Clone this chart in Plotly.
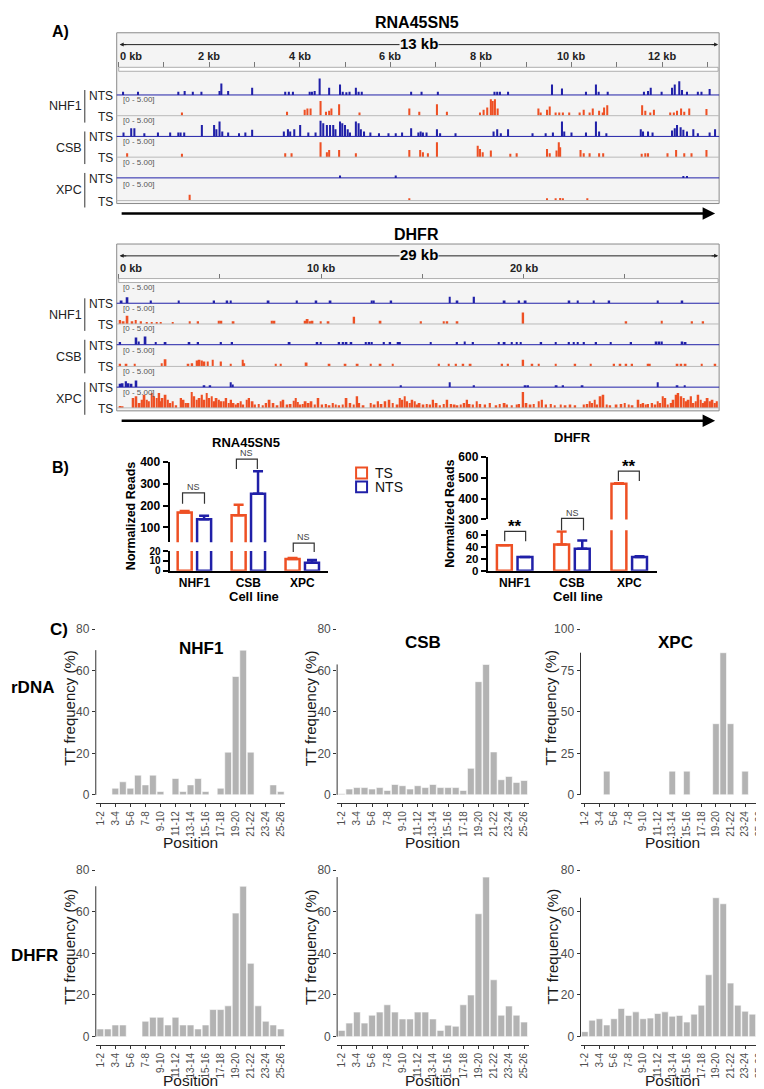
import plotly.graph_objects as go

W, H = 764, 1089
FONT = "Liberation Sans, Arial, sans-serif"
BLUE = "#2020a8"
RED = "#ee5024"
HIST_GREY = "#b3b3b3"
AXIS_GREY = "#333333"
TICK_GREY = "#4d4d4d"

# A) genome browser tracks: (position in kb, signal on the 0-5 scale)
rna_nhf1_nts = [(0.10, 1.0), (0.43, 1.0), (1.32, 1.0), (1.46, 1.2), (1.64, 1.0), (1.83, 1.0), (2.23, 1.2), (2.27, 3.5),
                (2.42, 1.2), (2.95, 2.2), (3.68, 1.0), (3.76, 1.0), (3.85, 1.0), (4.22, 1.0), (4.27, 1.0), (4.33, 1.2),
                (4.44, 5.0), (4.65, 2.2), (4.89, 3.2), (4.95, 1.0), (5.03, 0.8), (5.10, 1.0), (5.24, 2.2), (5.30, 1.0),
                (5.37, 1.0), (6.46, 1.0), (6.69, 1.0), (7.05, 1.0), (8.30, 1.0), (8.36, 1.0), (8.42, 1.0), (8.60, 1.0),
                (9.57, 3.2), (9.79, 2.0), (10.32, 1.0), (10.54, 3.2), (10.60, 1.0), (10.80, 1.0), (11.60, 1.0),
                (11.69, 1.2), (11.75, 2.2), (11.99, 1.0), (12.22, 2.2), (12.28, 3.2), (12.38, 4.2), (12.44, 1.5),
                (12.55, 1.0), (12.79, 1.0), (12.87, 1.0), (13.05, 1.8)]
rna_nhf1_ts = [(1.40, 1.0), (3.72, 1.2), (4.11, 1.8), (4.17, 2.2), (4.24, 2.2), (4.46, 4.5), (4.58, 1.2), (4.65, 1.5),
               (4.70, 2.2), (4.87, 3.5), (5.32, 1.0), (6.42, 2.2), (6.64, 1.2), (7.03, 3.5), (7.25, 1.2), (7.98, 1.0),
               (8.06, 1.8), (8.14, 2.5), (8.22, 5.0), (8.26, 4.5), (8.31, 5.0), (8.37, 2.2), (9.27, 2.2), (9.32, 1.0),
               (9.46, 1.8), (9.52, 2.8), (9.65, 1.0), (9.73, 1.0), (9.81, 1.0), (9.95, 1.0), (10.18, 1.0),
               (10.27, 1.8), (10.40, 1.0), (10.47, 2.2), (10.61, 1.5), (10.69, 1.0), (10.72, 2.5), (10.79, 3.2),
               (11.56, 3.2), (11.63, 1.5), (11.74, 1.0), (11.82, 1.8), (12.18, 1.0), (12.26, 1.0), (12.33, 1.5),
               (12.42, 2.2), (12.49, 1.2), (12.60, 2.2), (12.98, 2.0)]
rna_csb_nts = [(0.11, 1.2), (0.28, 2.5), (0.35, 2.5), (0.57, 1.0), (0.87, 1.2), (1.14, 1.2), (1.32, 1.2), (1.37, 1.2),
               (1.45, 1.2), (1.84, 3.5), (2.11, 3.5), (2.16, 2.2), (2.23, 4.5), (2.29, 1.5), (2.42, 1.2), (2.66, 1.0),
               (2.80, 1.2), (2.95, 2.0), (3.65, 1.5), (3.74, 2.2), (3.79, 1.5), (3.88, 2.2), (4.01, 3.5), (4.19, 1.2),
               (4.35, 1.2), (4.46, 4.8), (4.52, 4.0), (4.60, 3.5), (4.67, 3.5), (4.74, 3.5), (4.79, 2.2), (4.89, 4.5),
               (4.94, 4.0), (5.00, 3.5), (5.06, 2.2), (5.11, 1.2), (5.24, 4.5), (5.30, 4.0), (5.35, 2.2), (5.42, 1.5),
               (5.56, 1.2), (5.75, 1.0), (5.96, 1.0), (6.12, 1.0), (6.26, 1.2), (6.46, 2.5), (6.62, 1.2), (6.67, 1.5),
               (6.72, 1.2), (6.80, 1.2), (7.03, 2.2), (7.10, 1.0), (7.44, 1.0), (8.28, 1.5), (8.36, 2.2), (8.44, 1.0),
               (8.60, 2.2), (9.14, 1.0), (9.43, 1.0), (9.59, 1.2), (9.79, 4.5), (9.84, 1.5), (10.00, 1.2),
               (10.32, 1.2), (10.54, 4.5), (10.61, 1.5), (10.77, 1.0), (11.53, 2.2), (11.58, 1.5), (11.69, 1.5),
               (11.79, 1.2), (12.22, 1.8), (12.28, 2.5), (12.33, 3.5), (12.41, 2.8), (12.47, 2.0), (12.55, 1.5),
               (12.69, 2.2), (12.79, 1.0), (13.05, 1.2), (13.17, 2.2)]
rna_csb_ts = [(0.19, 1.2), (1.40, 1.0), (3.68, 1.2), (3.82, 1.2), (4.46, 4.5), (4.60, 1.5), (4.65, 2.2), (4.87, 2.2),
              (5.24, 1.2), (6.42, 2.2), (6.66, 2.2), (6.72, 1.5), (6.83, 1.2), (7.03, 4.5), (7.93, 3.5), (7.98, 2.5),
              (8.04, 1.5), (8.22, 2.0), (8.65, 1.0), (8.79, 1.2), (9.46, 2.5), (9.52, 1.2), (9.67, 2.0), (9.72, 4.5),
              (9.75, 3.0), (10.20, 2.2), (10.27, 1.2), (10.40, 1.2), (10.61, 1.2), (10.70, 1.2), (11.55, 1.0),
              (11.63, 1.2), (11.69, 1.2), (12.12, 1.2), (12.31, 2.2), (12.49, 1.2), (12.65, 1.2), (12.98, 2.2)]
rna_xpc_nts = [(4.89, 0.7), (6.12, 0.7), (12.47, 0.6), (12.55, 0.6)]
rna_xpc_ts = [(1.57, 1.8), (6.42, 0.7), (9.46, 0.7), (9.65, 0.7), (9.75, 0.8), (9.81, 0.7), (10.35, 0.7)]

dhfr_nhf1_nts = [(0.14, 0.8), (0.43, 1.8), (1.59, 0.8), (2.96, 0.8), (4.71, 0.8), (5.36, 0.8), (5.53, 0.8), (7.40, 0.8),
                 (8.80, 0.8), (9.76, 0.8), (10.46, 0.8), (12.50, 0.8), (12.60, 0.8), (13.46, 0.8), (16.35, 2.0),
                 (16.73, 0.8), (17.55, 2.0), (19.06, 0.8), (19.78, 0.8), (20.10, 0.8), (22.26, 0.8), (22.67, 0.8),
                 (23.46, 0.8), (24.23, 0.8), (26.63, 0.8), (27.84, 0.8)]
dhfr_nhf1_ts = [(0.07, 1.2), (0.24, 0.8), (0.43, 2.5), (0.67, 0.8), (0.84, 1.2), (1.10, 0.8), (1.39, 0.6), (1.63, 0.6),
                (1.88, 0.6), (2.07, 0.6), (2.67, 0.6), (3.51, 0.8), (3.92, 0.8), (4.95, 1.0), (5.07, 1.0), (5.67, 0.8),
                (7.57, 1.0), (7.69, 1.0), (9.21, 1.0), (9.33, 1.5), (9.45, 0.8), (9.57, 1.0), (9.98, 0.8), (10.36, 0.8),
                (11.63, 2.2), (12.93, 1.0), (14.93, 0.8), (16.06, 0.8), (16.23, 0.8), (16.73, 0.8), (19.98, 3.5),
                (25.07, 0.8), (26.83, 1.0), (28.32, 0.8), (28.87, 0.8)]
dhfr_csb_nts = [(0.07, 0.8), (0.87, 2.2), (0.99, 1.0), (1.32, 2.5), (1.83, 0.8), (2.31, 0.8), (3.49, 0.8), (3.92, 0.8),
                (5.05, 0.8), (5.60, 0.8), (8.44, 0.8), (9.81, 0.8), (9.98, 0.8), (10.89, 0.8), (11.08, 0.8),
                (11.25, 0.8), (11.49, 0.8), (12.21, 0.8), (12.38, 0.8), (12.50, 0.8), (13.10, 0.8), (13.41, 0.8),
                (13.82, 0.8), (13.89, 0.8), (15.41, 0.8), (16.71, 0.8), (17.09, 1.0), (17.50, 0.8), (18.77, 0.8),
                (19.06, 0.8), (19.42, 0.8), (19.66, 0.8), (19.86, 0.8), (20.87, 0.8), (21.59, 0.8), (22.24, 0.8),
                (22.48, 0.8), (22.67, 0.8), (22.98, 0.8), (23.58, 0.8), (24.30, 0.8), (25.31, 0.8), (26.56, 1.0),
                (26.71, 1.0), (26.83, 1.0), (27.84, 1.0), (28.00, 0.8)]
dhfr_csb_ts = [(0.07, 0.8), (0.38, 0.8), (0.79, 0.8), (2.12, 1.0), (2.31, 2.2), (3.44, 0.8), (3.63, 1.0), (3.87, 1.8),
               (3.99, 2.0), (4.11, 1.8), (4.23, 1.5), (4.40, 1.5), (4.64, 2.0), (5.05, 1.5), (5.53, 0.8), (6.13, 2.0),
               (6.20, 1.0), (7.76, 0.8), (8.00, 0.8), (9.28, 1.2), (10.41, 0.8), (11.20, 0.8), (11.80, 0.8),
               (12.45, 0.8), (12.93, 0.8), (13.53, 0.8), (15.82, 0.8), (16.30, 0.8), (16.66, 0.8), (17.02, 0.8),
               (17.38, 0.8), (18.94, 0.8), (19.23, 0.8), (19.98, 2.0), (20.43, 0.8), (20.75, 0.8), (21.59, 0.8),
               (22.55, 0.8), (23.32, 0.8), (24.47, 0.8), (24.78, 0.8), (25.07, 0.8), (25.36, 0.8), (26.15, 0.8),
               (26.23, 0.8), (27.60, 0.8), (27.79, 0.8), (28.00, 0.8), (28.80, 0.8), (29.47, 0.8)]
dhfr_xpc_nts = [(0.07, 1.0), (0.19, 1.2), (0.36, 1.8), (0.48, 1.2), (0.63, 1.0), (0.87, 2.0), (4.23, 0.6), (4.52, 0.6),
                (5.53, 1.5), (5.63, 0.8), (13.94, 0.6), (16.35, 1.5), (17.55, 0.6), (20.10, 0.6), (20.22, 0.6),
                (21.63, 0.6), (21.95, 0.6), (22.91, 0.6), (26.63, 1.5), (27.60, 0.6), (27.96, 0.6)]
dhfr_xpc_ts = [(0.07, 0.6), (0.19, 0.4), (0.72, 3.0), (0.87, 3.5), (1.03, 1.5), (1.15, 2.5), (1.27, 4.0), (1.39, 2.5),
               (1.49, 2.0), (1.63, 4.5), (1.75, 3.5), (1.88, 3.0), (2.00, 4.5), (2.07, 2.0), (2.16, 3.0), (2.31, 4.0),
               (2.43, 2.5), (2.55, 1.5), (2.67, 2.0), (2.84, 0.8), (3.08, 3.0), (3.20, 2.5), (3.32, 1.5), (3.44, 1.5),
               (3.61, 4.8), (3.73, 3.5), (3.85, 2.5), (3.99, 3.0), (4.11, 4.0), (4.23, 2.5), (4.35, 4.5), (4.47, 3.0),
               (4.59, 3.5), (4.71, 2.0), (4.83, 3.0), (4.95, 2.5), (5.07, 2.0), (5.19, 2.0), (5.31, 3.0), (5.43, 1.5),
               (5.55, 2.5), (5.67, 1.5), (5.79, 1.0), (5.91, 1.5), (6.03, 2.0), (6.15, 1.0), (6.32, 2.5), (6.44, 3.0),
               (6.61, 2.0), (6.73, 1.0), (6.92, 1.2), (7.12, 0.8), (7.28, 1.5), (7.45, 2.5), (7.64, 1.5), (7.84, 0.8),
               (8.00, 2.0), (8.13, 2.5), (8.32, 1.0), (8.49, 1.2), (8.65, 2.2), (8.75, 3.0), (8.85, 1.8), (8.97, 1.0),
               (9.09, 1.2), (9.23, 2.0), (9.38, 1.5), (9.52, 2.0), (9.69, 1.0), (9.86, 3.0), (10.05, 1.0),
               (10.24, 1.2), (10.41, 0.8), (10.58, 1.5), (10.72, 1.0), (10.89, 0.8), (11.06, 1.0), (11.25, 3.0),
               (11.44, 1.5), (11.61, 1.0), (11.78, 3.5), (11.88, 1.5), (12.09, 0.8), (12.45, 1.5), (12.64, 1.0),
               (12.81, 2.0), (12.98, 1.2), (13.17, 2.0), (13.37, 2.5), (13.53, 1.5), (13.77, 1.0), (13.89, 3.0),
               (14.01, 2.5), (14.13, 3.5), (14.25, 2.0), (14.38, 1.5), (14.50, 2.5), (14.62, 2.0), (14.74, 1.0),
               (14.86, 1.5), (15.05, 1.0), (15.22, 1.2), (15.38, 1.0), (15.53, 2.5), (15.70, 1.5), (15.87, 0.8),
               (16.06, 1.2), (16.23, 2.5), (16.42, 1.2), (16.59, 1.0), (16.73, 0.8), (16.90, 1.0), (17.07, 1.5),
               (17.21, 2.5), (17.33, 1.2), (17.50, 1.0), (17.69, 2.0), (17.86, 1.2), (18.10, 1.0), (18.34, 1.5),
               (18.65, 0.8), (18.82, 1.2), (19.06, 1.5), (19.18, 1.0), (19.42, 0.8), (19.66, 1.0), (19.78, 1.2),
               (19.98, 4.8), (20.14, 1.5), (20.34, 1.0), (20.50, 1.2), (20.75, 2.0), (20.91, 2.5), (21.11, 1.0),
               (21.35, 1.2), (21.54, 0.8), (21.83, 1.0), (22.07, 0.8), (22.31, 1.0), (22.55, 0.8), (22.98, 1.0),
               (23.15, 1.2), (23.27, 2.0), (23.39, 1.5), (23.51, 2.5), (23.63, 1.0), (23.80, 3.5), (23.94, 4.0),
               (24.11, 1.0), (24.28, 0.8), (24.59, 1.0), (24.83, 1.2), (25.00, 1.5), (25.19, 1.0), (25.38, 0.8),
               (25.67, 2.5), (25.79, 1.2), (25.91, 1.5), (26.03, 1.0), (26.15, 1.2), (26.35, 1.5), (26.51, 1.0),
               (26.63, 2.0), (26.75, 1.5), (26.88, 3.5), (27.00, 3.0), (27.12, 1.0), (27.31, 1.5), (27.40, 2.5),
               (27.55, 4.0), (27.64, 4.5), (27.79, 3.5), (27.91, 3.0), (28.03, 2.0), (28.15, 2.5), (28.27, 3.5),
               (28.39, 1.5), (28.51, 2.0), (28.63, 4.0), (28.75, 2.5), (28.87, 1.5), (28.99, 2.0), (29.09, 3.0),
               (29.21, 2.0), (29.33, 2.5), (29.45, 1.5), (29.55, 2.0)]

rna_ruler_ticks = [0, 1, 2, 3, 4, 5, 6, 7, 8, 9, 10, 11, 12, 13]
rna_ruler_labels = [(0, "0 kb"), (2, "2 kb"), (4, "4 kb"), (6, "6 kb"), (8, "8 kb"), (10, "10 kb"), (12, "12 kb")]
dhfr_ruler_ticks = [0, 5, 10, 15, 20, 25]
dhfr_ruler_labels = [(0, "0 kb"), (10, "10 kb"), (20, "20 kb")]

# B) normalized reads (mean, upper error)
cell_lines = ["NHF1", "CSB", "XPC"]
rna_ts_mean = [168, 156, 12]
rna_ts_err = [7, 48, 1]
rna_nts_mean = [137, 255, 8]
rna_nts_err = [17, 103, 3]
dhfr_ts_mean = [43, 44, 472]
dhfr_ts_err = [0, 22, 2]
dhfr_nts_mean = [23, 37, 23]
dhfr_nts_err = [0, 14, 1.5]

# C) TT frequency per position
positions = ["1-2", "2-3", "3-4", "4-5", "5-6", "6-7", "7-8", "8-9", "9-10", "10-11", "11-12", "12-13", "13-14",
             "14-15", "15-16", "16-17", "17-18", "18-19", "19-20", "20-21", "21-22", "22-23", "23-24", "24-25", "25-26"]
position_ticks = ["1-2", "3-4", "5-6", "7-8", "9-10", "11-12", "13-14", "15-16", "17-18", "19-20", "21-22", "23-24", "25-26"]
rdna_nhf1 = [0, 0, 3.2, 6.3, 3.2, 9.5, 4.8, 9.5, 1.6, 0, 7.9, 1.6, 4.8, 7.9, 1.6, 0, 3.2, 20.6, 57.1, 69.8, 20.6, 0, 0, 4.8, 1.6]
rdna_csb = [0.5, 2.8, 3.5, 3.5, 2.8, 3.5, 2.1, 5.0, 4.4, 2.8, 4.4, 3.5, 5.0, 3.5, 3.5, 3.5, 2.1, 12.8, 54.6, 62.9, 20.7, 7.3, 8.9, 6.0, 6.9]
rdna_xpc = [0, 0, 0, 14.3, 0, 0, 0, 0, 0, 0, 0, 0, 14.3, 0, 14.3, 0, 0, 0, 42.9, 85.7, 42.9, 0, 14.3, 0, 0]
dhfr_nhf1 = [3.7, 3.7, 5.6, 5.6, 0, 0, 7.4, 9.3, 9.3, 5.6, 9.3, 5.6, 5.6, 3.7, 5.6, 13.0, 13.0, 14.8, 59.3, 72.2, 35.2, 14.8, 7.4, 5.6, 3.7]
dhfr_csb = [3.0, 6.5, 11.8, 6.5, 10.3, 11.8, 15.3, 11.8, 8.5, 8.5, 11.8, 11.8, 8.5, 3.0, 5.5, 5.0, 15.3, 20.0, 59.0, 76.6, 27.3, 10.3, 14.7, 10.3, 7.0]
dhfr_xpc = [2.4, 7.9, 8.6, 5.6, 8.6, 13.5, 10.2, 11.9, 8.6, 8.9, 11.1, 11.9, 9.8, 10.2, 7.0, 10.8, 15.1, 29.7, 66.7, 63.8, 25.7, 15.1, 12.2, 10.8, 9.4]


def fx(p):
    return p / W


def fy(p):
    return 1 - p / H


def xk(i):
    return "xaxis" if i == 1 else f"xaxis{i}"


def yk(i):
    return "yaxis" if i == 1 else f"yaxis{i}"


def xs(i):
    return "x" if i == 1 else f"x{i}"


def ys(i):
    return "y" if i == 1 else f"y{i}"


fig = go.Figure()
layout = {}
shapes = []
notes = []


def label(x, y, s, size=12, bold=False, color="black", anchor="center", angle=0, bg=None, xref="paper"):
    notes.append(dict(x=fx(x) if xref == "paper" else x, y=fy(y), xref=xref, yref="paper", text=s,
                      showarrow=False, textangle=angle, xanchor=anchor, yanchor="middle", borderpad=0,
                      bgcolor=bg if bg else "rgba(0,0,0,0)",
                      font=dict(family=FONT, size=size, color=color, weight="bold" if bold else "normal")))


def line(x0, y0, x1, y1, color="black", width=1):
    shapes.append(dict(type="line", xref="paper", yref="paper", x0=fx(x0), y0=fy(y0), x1=fx(x1), y1=fy(y1),
                       line=dict(color=color, width=width)))


def bracket(x0, x1, top, leg, color=AXIS_GREY):
    shapes.append(dict(type="path", xref="paper", yref="paper",
                       path=f"M {fx(x0)} {fy(leg)} L {fx(x0)} {fy(top)} L {fx(x1)} {fy(top)} L {fx(x1)} {fy(leg)}",
                       line=dict(color=color, width=1.2)))


def igv_panel(xi, y_first, title, box_top, baselines, x_range, ticks, tick_labels, span_text, tracks, ranged, bar_w):
    left, right = 108, 712
    box_bot = baselines[-1] + 3
    shapes.append(dict(type="rect", xref="paper", yref="paper", x0=fx(left), x1=fx(right), y0=fy(box_top),
                       y1=fy(box_bot), fillcolor="#f4f4f4", line=dict(color="#8a8a8a", width=1), layer="below"))
    label(409, box_top - 10, title, 16, True)
    line(112, box_top + 12, right - 2, box_top + 12, "#222", 1)
    for xpos, ax in ((111, 8), (right - 1, -8)):
        notes.append(dict(x=fx(xpos), y=fy(box_top + 12), xref="paper", yref="paper", ax=ax, ay=0, text="",
                          showarrow=True, arrowhead=2, arrowsize=0.8, arrowwidth=1, arrowcolor="#222"))
    label(411, box_top + 11, span_text, 15, True, bg="#f4f4f4")
    shapes.append(dict(type="rect", xref="paper", yref="paper", x0=fx(110), x1=fx(right - 1), y0=fy(box_top + 35),
                       y1=fy(box_top + 39), fillcolor="white", line=dict(color="#9a9a9a", width=0.8)))
    layout[xk(xi)] = dict(domain=[fx(left), fx(right)], range=x_range, anchor="free", position=fy(box_top + 35),
                          side="top", ticks="outside", ticklen=5, tickcolor="#777", tickwidth=1, tickvals=ticks,
                          showticklabels=False, showgrid=False, zeroline=False, showline=False, fixedrange=True)
    for v, t in tick_labels:
        label(v, box_top + 24, t, 11, True, "#222", "left" if v == 0 else "center", xref=xs(xi))

    for i, (trk, base) in enumerate(zip(tracks, baselines)):
        yn = y_first + i
        nts = i % 2 == 0
        layout[yk(yn)] = dict(domain=[fy(base), fy(base - 20)], range=[0, 6], visible=False, anchor=xs(xi),
                              fixedrange=True)
        line(left, base, right, base, BLUE if nts else "#b9b9b9", 1)
        fig.add_trace(go.Bar(x=[p for p, _ in trk], y=[v for _, v in trk], xaxis=xs(xi), yaxis=ys(yn),
                             width=bar_w, marker=dict(color=BLUE if nts else RED, line=dict(width=0)),
                             showlegend=False, hoverinfo="skip"))
        if ranged[i]:
            label(113, base - 16, "[0 - 5.00]", 8, False, "#555", "left")

    for g, name in enumerate(["NHF1", "CSB", "XPC"]):
        b0, b1 = baselines[2 * g], baselines[2 * g + 1]
        label(74, (b0 + b1) / 2 + 1, name, 12.5, False, "#222", "right")
        line(76, b0 - 5, 76, b1 + 7, "#333", 1)
        label(105, b0 + 1, "NTS", 12, False, "#222", "right")
        label(105, b1 + 1, "TS", 12, False, "#222", "right")

    notes.append(dict(x=fx(708), y=fy(box_bot + 10), xref="paper", yref="paper", ax=-595, ay=0, text="",
                      showarrow=True, arrowhead=2, arrowsize=1, arrowwidth=2.5, arrowcolor="black"))


igv_panel(1, 1, "RNA45SN5", 18, [81, 102, 123, 144, 165, 188], [-0.04, 13.26], rna_ruler_ticks, rna_ruler_labels,
          "13 kb", [rna_nhf1_nts, rna_nhf1_ts, rna_csb_nts, rna_csb_ts, rna_xpc_nts, rna_xpc_ts],
          [False, True, True, True, True, True], 0.045)
igv_panel(2, 7, "DHFR", 232, [292, 313, 334, 356, 377, 398], [-0.1, 29.66], dhfr_ruler_ticks, dhfr_ruler_labels,
          "29 kb", [dhfr_nhf1_nts, dhfr_nhf1_ts, dhfr_csb_nts, dhfr_csb_ts, dhfr_xpc_nts, dhfr_xpc_ts],
          [True, True, True, True, True, True], 0.09)
label(52, 17, "A)", 16, True)


def reads_panel(xi, yu, yl, x_px, x_rng, up_px, up_rng, up_ticks, low_px, low_rng, low_ticks, low_font,
                ts_m, ts_e, nts_m, nts_e, title, title_xy, ytitle_x):
    def bold(size):
        return dict(family=FONT, size=size, color="black", weight="bold")
    axis_common = dict(showline=True, linewidth=2, linecolor="black", showgrid=False, zeroline=False,
                       fixedrange=True)
    layout[xk(xi)] = dict(domain=[fx(x_px[0]), fx(x_px[1])], range=x_rng, anchor=ys(yl), type="category",
                          categoryarray=cell_lines, ticks="", tickfont=bold(12), **axis_common)
    for yn, px_span, rng, tv, fs in ((yu, up_px, up_rng, up_ticks, 12), (yl, low_px, low_rng, low_ticks, low_font)):
        layout[yk(yn)] = dict(domain=[fy(px_span[1]), fy(px_span[0])], range=rng, anchor=xs(xi), tickvals=tv,
                              ticks="outside", ticklen=5, tickwidth=2, tickcolor="black", tickfont=bold(fs),
                              **axis_common)
        for mean, err, col, off in ((ts_m, ts_e, RED, -0.31), (nts_m, nts_e, BLUE, 0.05)):
            fig.add_trace(go.Bar(x=cell_lines, y=mean, width=0.26, offset=off, xaxis=xs(xi), yaxis=ys(yn),
                                 marker=dict(color="rgba(0,0,0,0)", line=dict(color=col, width=2.5)),
                                 error_y=dict(type="data", symmetric=False, array=err, arrayminus=[0, 0, 0],
                                              color=col, thickness=2.5, width=5),
                                 showlegend=False, hoverinfo="skip"))
    label(title_xy[0], title_xy[1], title, 13, True)
    label(ytitle_x, (up_px[0] + low_px[1]) / 2, "Normalized Reads", 12.5, True, angle=-90)
    label((x_px[0] + x_px[1]) / 2 + 5, 589, "Cell line", 13, True)


reads_panel(3, 13, 14, (161, 320), [-0.46, 2.48], (453, 534), [32, 400], [100, 200, 300, 400],
            (543, 563), [0, 20], [0, 10, 20], 10, rna_ts_mean, rna_ts_err, rna_nts_mean, rna_nts_err,
            "RNA45SN5", (238, 433), 123)
reads_panel(4, 15, 16, (480, 650), [-0.47, 2.49], (448, 511), [300, 600], [300, 400, 500, 600],
            (522, 563), [0, 68], [0, 20, 40, 60], 11.5, dhfr_ts_mean, dhfr_ts_err, dhfr_nts_mean, dhfr_nts_err,
            "DHFR", (565, 428), 442)
label(52, 458, "B)", 16, True)

# significance brackets
for x0, x1, top, leg, txt in ((174, 196, 484, 495, "NS"), (228, 249, 450, 460, "NS"), (285, 306, 535, 544, "NS"),
                              (497, 518, 523, 533, "**"), (554, 576, 510, 522, "NS"), (611, 632, 462, 472, "**")):
    bracket(x0, x1, top, leg)
    if txt == "NS":
        label((x0 + x1) / 2, top - 6, txt, 9, False, "#444")
    else:
        label((x0 + x1) / 2, top - 5, txt, 17, True)

# legend
for yc, col, txt in ((464, RED, "TS"), (478, BLUE, "NTS")):
    shapes.append(dict(type="rect", xref="paper", yref="paper", x0=fx(348), x1=fx(359), y0=fy(yc + 5.5),
                       y1=fy(yc - 5.5), line=dict(color=col, width=2), fillcolor="rgba(0,0,0,0)"))
    label(366, yc, txt, 14, False, "#111", "left")


def tt_panel(xi, yi, x_px, y_px, vals, y_rng, y_ticks, ytitle_x, ytitle_y, pos_y):
    layout[xk(xi)] = dict(domain=[fx(x_px[0]), fx(x_px[1])], anchor=ys(yi), type="category",
                          categoryarray=positions, range=[-0.6, 24.6], tickmode="array", tickvals=position_ticks,
                          tickangle=-90, tickfont=dict(family=FONT, size=10, color=TICK_GREY), showline=True,
                          linecolor=AXIS_GREY, linewidth=1, ticks="outside", ticklen=3, tickcolor=AXIS_GREY,
                          showgrid=False, zeroline=False, fixedrange=True)
    layout[yk(yi)] = dict(domain=[fy(y_px[1]), fy(y_px[0])], anchor=xs(xi), range=y_rng, tickvals=y_ticks,
                          ticks="outside", ticklen=3, tickcolor=AXIS_GREY,
                          tickfont=dict(family=FONT, size=12, color=TICK_GREY),
                          showline=False, showgrid=False, zeroline=False, fixedrange=True)
    fig.add_trace(go.Bar(x=positions, y=vals, xaxis=xs(xi), yaxis=ys(yi),
                         marker=dict(color=HIST_GREY, line=dict(color="white", width=0.6)),
                         showlegend=False, hoverinfo="skip"))
    top, bot = y_px

    def vpx(v):
        return bot - (v - y_rng[0]) / (y_rng[1] - y_rng[0]) * (bot - top)

    # y axis line only spans up to the tallest bar
    line(x_px[0], vpx(0), x_px[0], vpx(max(vals)), AXIS_GREY, 1)
    label(ytitle_x, ytitle_y, "TT frequency (%)", 15, False, "#1a1a1a", angle=-90)
    label((x_px[0] + x_px[1]) / 2, pos_y, "Position", 15.5, False, "#1a1a1a")


row1 = (613.6, 798.4)
row2 = (857.7, 1043.4)
tt_panel(5, 17, (87, 277), row1, rdna_nhf1, [-4, 84], [0, 20, 40, 60, 80], 61, 702, 838)
tt_panel(6, 18, (329, 521), row1, rdna_csb, [-4, 84], [0, 20, 40, 60, 80], 303, 702, 838)
tt_panel(7, 19, (573, 757), row1, rdna_xpc, [-5, 105], [0, 25, 50, 75, 100], 543, 702, 838)
tt_panel(8, 20, (87, 277), row2, dhfr_nhf1, [-4, 84], [0, 20, 40, 60, 80], 61, 944, 1079)
tt_panel(9, 21, (329, 521), row2, dhfr_csb, [-4, 84], [0, 20, 40, 60, 80], 303, 944, 1079)
tt_panel(10, 22, (573, 757), row2, dhfr_xpc, [-4, 84], [0, 20, 40, 60, 80], 545, 944, 1079)

label(193, 642, "NHF1", 17, True)
label(415, 636, "CSB", 17, True)
label(668, 636, "XPC", 17, True)
label(1, 681, "rDNA", 17, True, anchor="left")
label(1, 953, "DHFR", 17, True, anchor="left")
label(50, 622, "C)", 17, True)

fig.update_layout(width=W, height=H, margin=dict(l=0, r=0, t=0, b=0), paper_bgcolor="white",
                  plot_bgcolor="rgba(0,0,0,0)", showlegend=False, bargap=0.1, font=dict(family=FONT),
                  shapes=shapes, annotations=notes, **layout)
fig.write_html("out.html")
